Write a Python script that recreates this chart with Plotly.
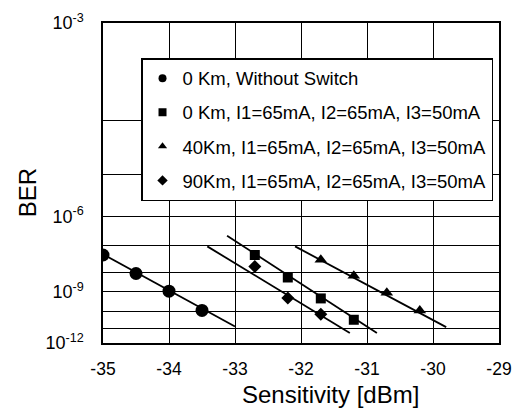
import numpy as np
import plotly.graph_objects as go

# ---- Data ----
sens_0km_noswitch = [-35.0, -34.5, -34.0, -33.5]
ber_0km_noswitch = [4.5e-8, 9.0e-9, 1.1e-9, 1.1e-10]

sens_0km = [-32.7, -32.2, -31.7, -31.2]
ber_0km = [4.5e-8, 5.6e-9, 4.6e-10, 3.2e-11]

sens_40km = [-31.7, -31.2, -30.7, -30.2]
ber_40km = [3.0e-8, 6.8e-9, 9.2e-10, 1.08e-10]

sens_90km = [-32.7, -32.2, -31.7]
ber_90km = [1.7e-8, 4.8e-10, 6.6e-11]

# fitted straight lines (end points)
fit_x_0km_noswitch = [-35.0, -33.0]
fit_ber_0km_noswitch = [4.8e-8, 1.3e-11]
fit_x_0km = [-33.12, -30.85]
fit_ber_0km = [2.2e-7, 4.9e-12]
fit_x_40km = [-32.09, -29.8]
fit_ber_40km = [9.4e-8, 1.2e-11]
fit_x_90km = [-33.42, -31.26]
fit_ber_90km = [9.4e-8, 4.9e-12]

labels = [
    "0 Km, Without Switch",
    "0 Km, I1=65mA, I2=65mA, I3=50mA",
    "40Km, I1=65mA, I2=65mA, I3=50mA",
    "90Km, I1=65mA, I2=65mA, I3=50mA",
]
symbols = ["circle", "square", "triangle-up", "diamond"]

# ---- BER axis scale (probability-paper style, one gridline per decade) ----
decade_exp = [-12, -11, -10, -9, -8, -7, -6, -5, -4, -3]
decade_pos = [0.0, 0.0452, 0.0994, 0.1596, 0.2199, 0.3042, 0.3946, 0.5271, 0.6958, 1.0]


def ber_axis(ber):
    return np.interp(np.log10(np.asarray(ber, dtype=float)), decade_exp, decade_pos)


x_ticks = [-35, -34, -33, -32, -31, -30, -29]
y_tick_exp = [-3, -6, -9, -12]
y_tick_text = ["10<sup>-3</sup>", "10<sup>-6</sup>", "10<sup>-9</sup>", "10<sup>-12</sup>"]

FONT = "Liberation Sans, Arial, Helvetica, sans-serif"

fig = go.Figure()

series = [
    (sens_0km_noswitch, ber_0km_noswitch, fit_x_0km_noswitch, fit_ber_0km_noswitch, 13),
    (sens_0km, ber_0km, fit_x_0km, fit_ber_0km, 10),
    (sens_40km, ber_40km, fit_x_40km, fit_ber_40km, 11),
    (sens_90km, ber_90km, fit_x_90km, fit_ber_90km, 10),
]

for i, (sx, sb, fx, fb, msize) in enumerate(series):
    fig.add_trace(go.Scatter(
        x=fx, y=ber_axis(fb), mode="lines",
        line=dict(color="black", width=1.8),
        showlegend=False, hoverinfo="skip",
    ))
    fig.add_trace(go.Scatter(
        x=sx, y=ber_axis(sb), mode="markers",
        marker=dict(symbol=symbols[i], size=msize, color="black"),
        showlegend=False, name=labels[i],
    ))

# legend entries (smaller symbols as in the original legend)
for i in range(4):
    fig.add_trace(go.Scatter(
        x=[None], y=[None], mode="markers",
        marker=dict(symbol=symbols[i], size=8, color="black"),
        name=labels[i], legendgroup=f"g{i}", showlegend=True,
    ))

fig.update_layout(
    width=523, height=410,
    margin=dict(l=103, r=15, t=11, b=67),
    paper_bgcolor="white", plot_bgcolor="white",
    font=dict(family=FONT, color="black", size=17),
    legend=dict(
        x=0.096, y=0.89, xanchor="left", yanchor="top",
        bgcolor="white", bordercolor="black", borderwidth=1.5,
        font=dict(family=FONT, size=18.5, color="black"),
        tracegroupgap=7, traceorder="grouped",
        itemsizing="trace",
    ),
    xaxis=dict(
        range=[-35, -29], tickmode="array", tickvals=x_ticks,
        ticktext=[str(v) for v in x_ticks],
        showgrid=True, gridcolor="black", gridwidth=1,
        showline=True, linecolor="black", linewidth=1.5, mirror=True,
        zeroline=False, ticks="", ticklabelstandoff=9,
        tickfont=dict(size=17.5),
    ),
    yaxis=dict(
        range=[0, 1], tickmode="array",
        tickvals=list(ber_axis([10.0 ** e for e in y_tick_exp])),
        ticktext=y_tick_text,
        showgrid=True, gridcolor="black", gridwidth=1,
        minor=dict(tickmode="array", tickvals=decade_pos, showgrid=True,
                   gridcolor="black", gridwidth=1, ticks=""),
        showline=True, linecolor="black", linewidth=1.5, mirror=True,
        zeroline=False, ticks="", ticklabelstandoff=14,
        tickfont=dict(size=18),
    ),
    annotations=[
        dict(text="Sensitivity [dBm]", xref="paper", yref="paper",
             x=0.575, y=-0.16, showarrow=False,
             font=dict(size=24, family=FONT), xanchor="center", yanchor="middle"),
        dict(text="BER", xref="paper", yref="paper",
             x=-0.19, y=0.47, showarrow=False, textangle=-90,
             font=dict(size=24, family=FONT), xanchor="center", yanchor="middle"),
    ],
)

fig.write_html("out.html")
